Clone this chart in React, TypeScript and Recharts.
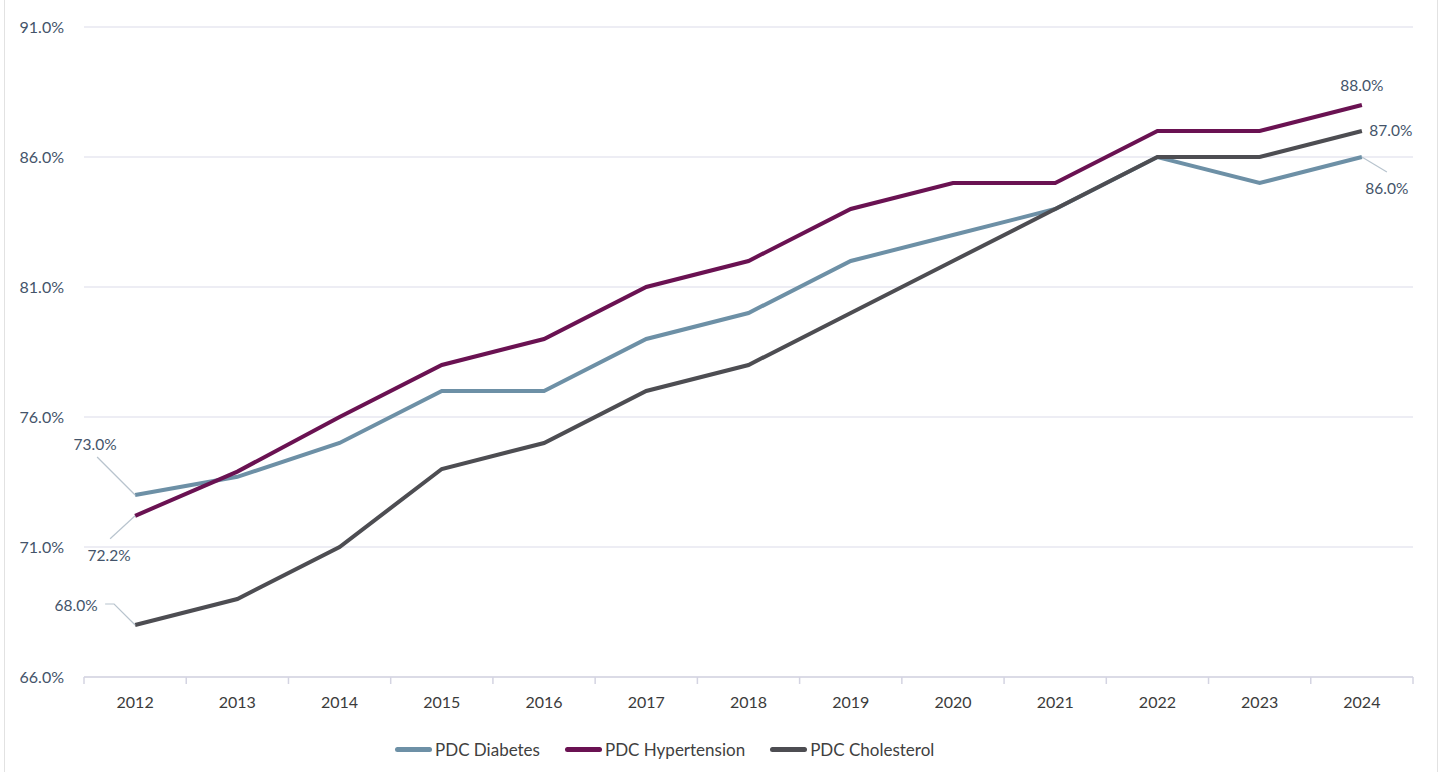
import React from 'react';
import { LineChart, Line, XAxis, YAxis, CartesianGrid, Legend, LabelList } from 'recharts';

const years = ['2012', '2013', '2014', '2015', '2016', '2017', '2018', '2019', '2020', '2021', '2022', '2023', '2024'];
const diabetes = [73.0, 73.7, 75.0, 77.0, 77.0, 79.0, 80.0, 82.0, 83.0, 84.0, 86.0, 85.0, 86.0];
const hypertension = [72.2, 73.9, 76.0, 78.0, 79.0, 81.0, 82.0, 84.0, 85.0, 85.0, 87.0, 87.0, 88.0];
const cholesterol = [68.0, 69.0, 71.0, 74.0, 75.0, 77.0, 78.0, 80.0, 82.0, 84.0, 86.0, 86.0, 87.0];
const yTicks = [66, 71, 76, 81, 86, 91];

const data = years.map((year, i) => ({
  year,
  diabetes: diabetes[i],
  hypertension: hypertension[i],
  cholesterol: cholesterol[i],
}));

const series = [
  { key: 'diabetes', name: 'PDC Diabetes', color: '#6D90A6' },
  { key: 'hypertension', name: 'PDC Hypertension', color: '#6A1252' },
  { key: 'cholesterol', name: 'PDC Cholesterol', color: '#4D4D52' },
];

const FONT = 'Lato, "Open Sans", sans-serif';
const LABEL_COLOR = '#44546A';

// label placement for the first / last point of each line, with optional leader line
type Callout = { dx: number; dy: number; leader?: [number, number][] };
const callouts: Record<string, Record<number, Callout>> = {
  diabetes: {
    0: { dx: -40, dy: -51, leader: [[-38, -38], [0, 0]] },
    12: { dx: 25, dy: 31, leader: [[0, 0], [25, 15]] },
  },
  hypertension: {
    0: { dx: -26, dy: 39, leader: [[-25, 23], [0, 0]] },
    12: { dx: 0, dy: -20 },
  },
  cholesterol: {
    0: { dx: -59, dy: -20, leader: [[-30, -21], [-21, -21], [0, 0]] },
    12: { dx: 29, dy: -1 },
  },
};

const makeLabel = (key: string) => (props: any) => {
  const { x, y, value, index } = props;
  const c = callouts[key][index];
  if (!c) return null;
  return (
    <g>
      {c.leader && (
        <polyline
          points={c.leader.map(([px, py]) => `${x + px},${y + py}`).join(' ')}
          fill="none"
          stroke="#B8C4CE"
          strokeWidth={1.2}
        />
      )}
      <text
        x={x + c.dx}
        y={y + c.dy}
        textAnchor="middle"
        dominantBaseline="central"
        fontSize={15.5}
        fontFamily={FONT}
        fill={LABEL_COLOR}
      >
        {`${Number(value).toFixed(1)}%`}
      </text>
    </g>
  );
};

const YearTick = (props: any) => {
  const { x, y, payload, index } = props;
  const half = payload.offset ?? 0;
  return (
    <g>
      <line x1={x - half} x2={x - half} y1={y} y2={y + 7} stroke="#D4D4E2" strokeWidth={1.5} />
      {index === years.length - 1 && (
        <line x1={x + half} x2={x + half} y1={y} y2={y + 7} stroke="#D4D4E2" strokeWidth={1.5} />
      )}
      <text x={x} y={y + 31} textAnchor="middle" fontSize={16} fontFamily={FONT} fill="#3B3B3B">
        {payload.value}
      </text>
    </g>
  );
};

const LegendContent = () => (
  <div
    style={{
      height: 40,
      display: 'flex',
      justifyContent: 'flex-start',
      alignItems: 'center',
      paddingLeft: 395,
      paddingBottom: 6,
      boxSizing: 'border-box',
      gap: 25,
      fontFamily: FONT,
      fontSize: 17,
      color: '#404040',
    }}
  >
    {series.map((s) => (
      <div key={s.key} style={{ display: 'flex', alignItems: 'center' }}>
        <div style={{ width: 37, height: 5, borderRadius: 3, background: s.color, marginRight: 3 }} />
        <span>{s.name}</span>
      </div>
    ))}
  </div>
);

export default function App() {
  return (
    <div style={{ position: 'absolute', left: 0, top: 0, width: 1443, height: 772, background: '#fff' }}>
      <div
        style={{
          position: 'absolute',
          left: 4,
          top: 0,
          width: 1432,
          height: 772,
          borderLeft: '1.5px solid #E2E2E2',
          borderRight: '1.5px solid #E2E2E2',
        }}
      />
      <LineChart
        width={1443}
        height={772}
        data={data}
        margin={{ top: 27, right: 30, bottom: 0, left: 0 }}
        style={{ position: 'absolute', left: 0, top: 0 }}
      >
        <CartesianGrid horizontal vertical={false} stroke="#DCDCEA" strokeWidth={1.2} />
        <XAxis
          dataKey="year"
          scale="band"
          height={55}
          tickLine={false}
          tickSize={0}
          tickMargin={0}
          axisLine={{ stroke: '#D4D4E2', strokeWidth: 1.5 }}
          tick={<YearTick />}
          interval={0}
        />
        <YAxis
          width={84}
          domain={[66, 91]}
          ticks={yTicks}
          axisLine={false}
          tickLine={false}
          tickSize={0}
          tickMargin={20}
          tickFormatter={(v) => `${Number(v).toFixed(1)}%`}
          tick={{ fontSize: 16, fontFamily: FONT, fill: LABEL_COLOR }}
        />
        {series.map((s) => (
          <Line
            key={s.key}
            type="linear"
            dataKey={s.key}
            name={s.name}
            stroke={s.color}
            strokeWidth={4}
            dot={false}
            activeDot={false}
            isAnimationActive={false}
          >
            <LabelList dataKey={s.key} content={makeLabel(s.key)} />
          </Line>
        ))}
        <Legend verticalAlign="bottom" content={<LegendContent />} />
      </LineChart>
    </div>
  );
}
